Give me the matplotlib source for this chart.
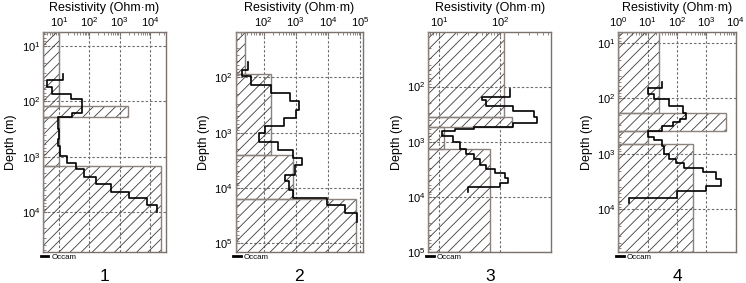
import numpy as np
import matplotlib.pyplot as plt
from matplotlib.lines import Line2D
from matplotlib.ticker import NullFormatter, LogLocator

plt.rcParams['font.family'] = ['Liberation Sans', 'DejaVu Sans']
plt.rcParams['mathtext.default'] = 'regular'
plt.rcParams['hatch.linewidth'] = 0.6

# ---------------------------------------------------------
# layered models (hatched): layer tops in m, resistivity in Ohm.m
# ---------------------------------------------------------
mod1_d = [5.5, 120, 195, 1480, 60000]
mod1_r = [10, 1900, 10, 23000]

mod2_d = [15, 86, 2500, 16000, 150000]
mod2_r = [26, 174, 820, 74000]

mod3_d = [10, 350, 530, 1370, 100000]
mod3_r = [118, 155, 12, 69]

mod4_d = [6.3, 180, 390, 660, 60000]
mod4_r = [24, 4650, 10, 350]

# ---------------------------------------------------------
# Occam inversions: layer boundaries (m) and resistivities
# ---------------------------------------------------------
occ1_d = [32, 41, 55, 72, 91, 165, 195, 320, 480, 650, 980,
          1300, 1700, 2300, 3100, 4300, 5700, 7600, 10000]
occ1_r = [13.5, 4, 6, 24, 58, 27, 9, 10, 9.3, 10.5,
          18, 37, 65, 170, 500, 2100, 8000, 17000]

occ2_d = [53, 74, 96, 135, 190, 272, 385, 550, 750, 1000, 1450,
          2050, 2880, 3800, 5800, 7500, 11000, 15400, 20500, 29000, 41000]
occ2_r = [33, 21, 41, 170, 645, 1230, 1040, 420, 113, 70,
          290, 850, 1550, 960, 470, 600, 850, 9300, 35000, 80000]

occ3_d = [112, 152, 172, 224, 277, 350, 460, 540, 580, 650, 790, 1030,
          1370, 1700, 2100, 2600, 3150, 3630, 4460, 5500, 6700, 8300]
occ3_r = [146, 50, 60, 166, 355, 400, 166, 37, 18, 11, 17,
          22, 28, 37, 47, 60, 83, 121, 137, 100, 30]

occ4_d = [50, 66, 83, 104, 138, 182, 230, 268, 310, 390, 490, 560,
          710, 1000, 1230, 1480, 1800, 2150, 2800, 3800, 4600, 6200, 7600]
occ4_r = [32, 10, 17, 55, 160, 207, 122, 72, 32, 10, 17,
          32, 37, 55, 94, 180, 780, 2200, 3100, 1000, 100, 2.3]

panel_names = ['1', '2', '3', '4']
xlims = [(10**0.47, 10**4.53), (10**1.13, 10**5.09), (10**0.825, 10**2.84), (1, 1e4)]
ylims = [(10**4.73, 10**0.74), (10**5.16, 10**1.18), (1e5, 10**1.01), (10**4.77, 10**0.8)]

panels = [(mod1_d, mod1_r, occ1_d, occ1_r),
          (mod2_d, mod2_r, occ2_d, occ2_r),
          (mod3_d, mod3_r, occ3_d, occ3_r),
          (mod4_d, mod4_r, occ4_d, occ4_r)]

# axes boxes in figure pixels: left, width
boxes = [(43, 123), (235.5, 127.5), (428.3, 123), (618.3, 117.4)]

W, H = 746, 283
spine_c = '#7a716d'
box_c = '#8b827e'

fig = plt.figure(figsize=(W / 100, H / 100), dpi=100)

for (md, mr, od, orr), name, xl, yl, (bx, bw) in zip(panels, panel_names, xlims, ylims, boxes):
    ax = fig.add_axes([bx / W, 1 - 252 / H, bw / W, 220 / H])
    ax.set_xscale('log')
    ax.set_yscale('log')

    md = np.array(md, float)
    mr = np.array(mr, float)
    left = xl[0]
    tops, bots = md[:-1], md[1:]

    # hatched model
    ax.barh(tops, mr - left, height=bots - tops, left=left, align='edge',
            facecolor='none', edgecolor='#3c3c3c', hatch='///', linewidth=0, zorder=2)
    ax.barh(tops, mr - left, height=bots - tops, left=left, align='edge',
            fill=False, edgecolor=box_c, linewidth=1.0, zorder=3)

    # Occam step curve
    od = np.array(od, float)
    x = np.repeat(orr, 2)
    y = np.column_stack([od[:-1], od[1:]]).ravel()
    ax.plot(x, y, color='black', lw=1.2, zorder=4)

    ax.set_xlim(*xl)
    ax.set_ylim(*yl)

    for axis in (ax.xaxis, ax.yaxis):
        axis.set_major_locator(LogLocator(base=10, numticks=20))
        axis.set_minor_locator(LogLocator(base=10, subs=np.arange(2, 10), numticks=20))
        axis.set_minor_formatter(NullFormatter())

    ax.grid(True, which='major', color='#6e6e6e', lw=0.8, ls=(0, (2.2, 1.8)), zorder=5)
    ax.xaxis.tick_top()
    ax.xaxis.set_label_position('top')
    ax.tick_params(which='both', direction='in', top=True, bottom=False,
                   left=True, right=False, color=spine_c, labelsize=8, pad=2)
    ax.tick_params(which='major', length=3)
    ax.tick_params(which='minor', length=2)
    for s in ax.spines.values():
        s.set_color(spine_c)
        s.set_linewidth(1.0)

    ax.set_xlabel('Resistivity (Ohm·m)', fontsize=9, labelpad=3)
    ax.set_ylabel('Depth (m)', fontsize=9, labelpad=3)

    h = Line2D([], [], color='black', lw=2)
    ax.legend([h], ['Occam'], loc='upper left', bbox_to_anchor=(-0.02, -0.005),
              frameon=False, fontsize=5.7, handlelength=1.0, handletextpad=0.4,
              borderpad=0, borderaxespad=0)

    ax.text(0.5, -0.11, name, transform=ax.transAxes, ha='center', va='center',
            fontsize=12.5)

fig.savefig('out.png', dpi=100)
